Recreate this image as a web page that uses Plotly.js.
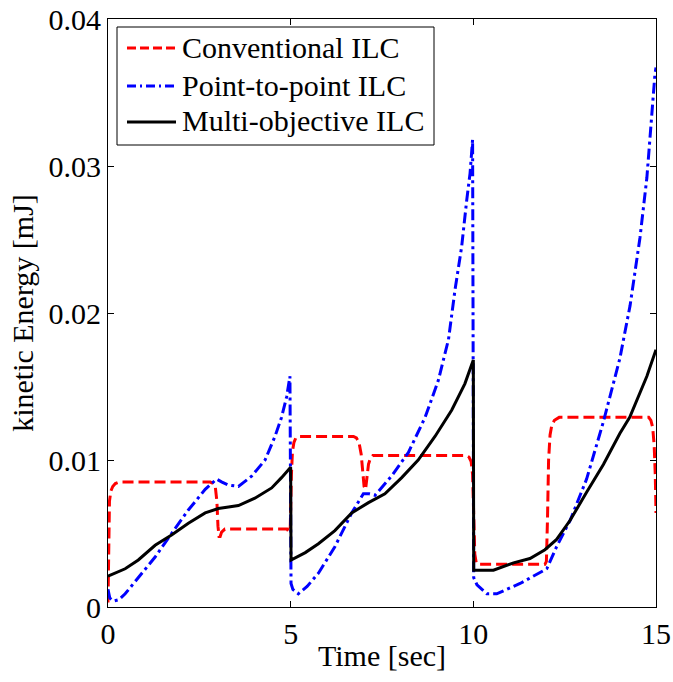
<!DOCTYPE html>
<html>
<head>
<meta charset="utf-8">
<script src="https://cdn.plot.ly/plotly-3.0.1.min.js"></script>
<style>html,body{margin:0;padding:0;background:#fff;}#chart{width:673px;height:682px;}</style>
</head>
<body>
<div id="chart"></div>
<script>
// Conventional ILC (red dashed)
const convT = [0, 0.02, 0.04, 0.08, 0.13, 0.2, 0.3,
  2.8, 2.88, 2.94, 2.98, 3.01, 3.04, 3.07, 3.11, 3.2,
  4.9, 4.96, 4.99, 5.02, 5.05, 5.09, 5.14, 5.2, 5.3,
  6.72, 6.8, 6.87, 6.93, 6.97, 7.01, 7.05, 7.09, 7.13, 7.18, 7.25, 7.35,
  9.8, 9.88, 9.94, 9.98, 10.01, 10.04, 10.08, 10.15,
  11.96, 12.0, 12.03, 12.06, 12.1, 12.15, 12.22, 12.35,
  14.8, 14.86, 14.91, 14.95, 14.98, 15.0];
const convV = [0.0003, 0.0050, 0.0072, 0.0079, 0.0082, 0.0084, 0.0085,
  0.0085, 0.0084, 0.0081, 0.0072, 0.0055, 0.0048, 0.0048, 0.0051, 0.0053,
  0.0053, 0.0051, 0.0055, 0.0090, 0.0106, 0.0112, 0.0115, 0.0116, 0.0116,
  0.0116, 0.0115, 0.0112, 0.0104, 0.0092, 0.0082, 0.0080, 0.0088, 0.0097, 0.0101, 0.0103, 0.0103,
  0.0103, 0.0102, 0.0099, 0.0090, 0.0060, 0.0036, 0.0030, 0.0029,
  0.0029, 0.0031, 0.0060, 0.0100, 0.0117, 0.0124, 0.0127, 0.0129,
  0.0129, 0.0127, 0.0122, 0.0110, 0.0090, 0.0064];

// Point-to-point ILC (blue dash-dot)
const p2pT = [0, 0.05, 0.15, 0.3, 0.47, 0.83, 1.29, 1.74, 2.2, 2.66,
  2.97, 3.12, 3.29, 3.57, 3.93, 4.3, 4.57, 4.75, 4.89, 4.98,
  5.01, 5.06, 5.21, 5.45, 5.76, 6.21, 6.67, 6.99, 7.15, 7.31,
  7.76, 8.22, 8.68, 9.04, 9.32, 9.5, 9.68, 9.82, 9.91, 9.98,
  10.01, 10.1, 10.37, 10.64, 11.28, 12.01, 12.28, 12.65, 13.1, 13.56,
  14.01, 14.29, 14.56, 14.75, 14.88, 14.97, 15.0];
const p2pV = [0.0012, 0.0006, 0.0004, 0.0005, 0.0009, 0.0020, 0.0034, 0.0050, 0.0066, 0.0080,
  0.0087, 0.0085, 0.0083, 0.0082, 0.0089, 0.0100, 0.0116, 0.0129, 0.0143, 0.0157,
  0.0016, 0.0012, 0.0009, 0.0014, 0.0023, 0.0041, 0.0064, 0.0077, 0.0077, 0.0076,
  0.0089, 0.0105, 0.0129, 0.0154, 0.0182, 0.0216, 0.0245, 0.0277, 0.0295, 0.0318,
  0.0020, 0.0015, 0.0009, 0.0009, 0.0016, 0.0026, 0.0041, 0.0059, 0.0087, 0.0126,
  0.0169, 0.0205, 0.0251, 0.0292, 0.0336, 0.0362, 0.0367];

// Multi-objective ILC (black solid)
const moT = [0, 0.47, 0.83, 1.29, 1.74, 2.2, 2.66, 3.02, 3.3, 3.57,
  4.02, 4.48, 4.75, 4.98, 5.0, 5.01, 5.4, 5.76, 6.21, 6.67,
  7.13, 7.58, 8.04, 8.49, 8.95, 9.41, 9.77, 10.0, 10.01, 10.55,
  11.1, 11.55, 11.96, 12.28, 12.65, 13.1, 13.56, 14.01, 14.28, 14.75, 15.0];
const moV = [0.0021, 0.0026, 0.0032, 0.0042, 0.0049, 0.0057, 0.0064, 0.0067, 0.0068, 0.0069,
  0.0074, 0.0081, 0.0088, 0.0094, 0.0095, 0.0032, 0.0037, 0.0043, 0.0052, 0.0064,
  0.0071, 0.0077, 0.0088, 0.0100, 0.0116, 0.0134, 0.0152, 0.0168, 0.0025, 0.0025,
  0.0030, 0.0033, 0.0039, 0.0046, 0.0059, 0.0078, 0.0097, 0.0118, 0.0129, 0.0157, 0.0175];

const seriesNames = ['Conventional ILC', 'Point-to-point ILC', 'Multi-objective ILC'];
const seriesColors = ['#ff0000', '#0000ff', '#000000'];
const seriesDash = ['11px,5px', '11px,4px,3px,4px', 'solid'];
const legendDash = ['9px,4px', '9px,4px,2px,4px', 'solid'];
const xTicks = [0, 5, 10, 15];
const xTickText = ['0', '5', '10', '15'];
const yTicks = [0, 0.01, 0.02, 0.03, 0.04];
const yTickText = ['0', '0.01', '0.02', '0.03', '0.04'];
const xTitle = 'Time [sec]';
const yTitle = 'kinetic Energy [mJ]';

const FONT = 'Liberation Serif';
const FS = 30;

// plot box in pixels (for legend placement)
const W = 673, H = 682, ML = 108, MR = 17, MT = 19, MB = 75;
const PW = W - ML - MR, PH = H - MT - MB;
const px = x => (x - ML) / PW;
const py = y => (H - MB - y) / PH;

const seriesT = [convT, p2pT, moT];
const seriesV = [convV, p2pV, moV];

const traces = seriesNames.map((n, i) => ({
  x: seriesT[i], y: seriesV[i], name: n, mode: 'lines', type: 'scatter',
  line: {color: seriesColors[i], width: 3, dash: seriesDash[i]}
}));

// legend drawn as box + sample lines + text
const legRows = [48, 86, 122];
const shapes = [{
  type: 'rect', xref: 'paper', yref: 'paper',
  x0: px(117), x1: px(434), y0: py(145), y1: py(27),
  line: {color: '#000', width: 1}, fillcolor: '#fff', layer: 'above'
}];
const annotations = [];
legRows.forEach((ry, i) => {
  shapes.push({
    type: 'line', xref: 'paper', yref: 'paper',
    x0: px(127), x1: px(176), y0: py(ry), y1: py(ry),
    line: {color: seriesColors[i], width: 3, dash: legendDash[i]}, layer: 'above'
  });
  annotations.push({
    xref: 'paper', yref: 'paper', x: px(180), y: py(ry - 1),
    xanchor: 'left', yanchor: 'middle', showarrow: false,
    text: seriesNames[i], font: {family: FONT, size: FS, color: '#000'}
  });
});
// x-axis title placed close under the tick labels
annotations.push({
  xref: 'paper', yref: 'paper', x: 0.5, y: py(655),
  xanchor: 'center', yanchor: 'middle', showarrow: false,
  text: xTitle, font: {family: FONT, size: FS, color: '#000'}
});

const axisCommon = {
  showgrid: false, zeroline: false, showline: true, linecolor: '#000', linewidth: 1,
  mirror: 'ticks', ticks: 'inside', ticklen: 6, tickcolor: '#000', tickwidth: 1,
  tickfont: {family: FONT, size: FS, color: '#000'}
};

const layout = {
  width: W, height: H,
  margin: {l: ML, r: MR, t: MT, b: MB},
  paper_bgcolor: '#fff', plot_bgcolor: '#fff',
  font: {family: FONT, size: FS, color: '#000'},
  showlegend: false,
  xaxis: Object.assign({}, axisCommon, {
    range: [0, 15], tickmode: 'array', tickvals: xTicks, ticktext: xTickText
  }),
  yaxis: Object.assign({}, axisCommon, {
    range: [0, 0.04], tickmode: 'array', tickvals: yTicks, ticktext: yTickText,
    title: {text: yTitle, font: {family: FONT, size: FS, color: '#000'}, standoff: 6}
  }),
  shapes: shapes,
  annotations: annotations
};

Plotly.newPlot('chart', traces, layout, {displayModeBar: false, staticPlot: true});
</script>
</body>
</html>
